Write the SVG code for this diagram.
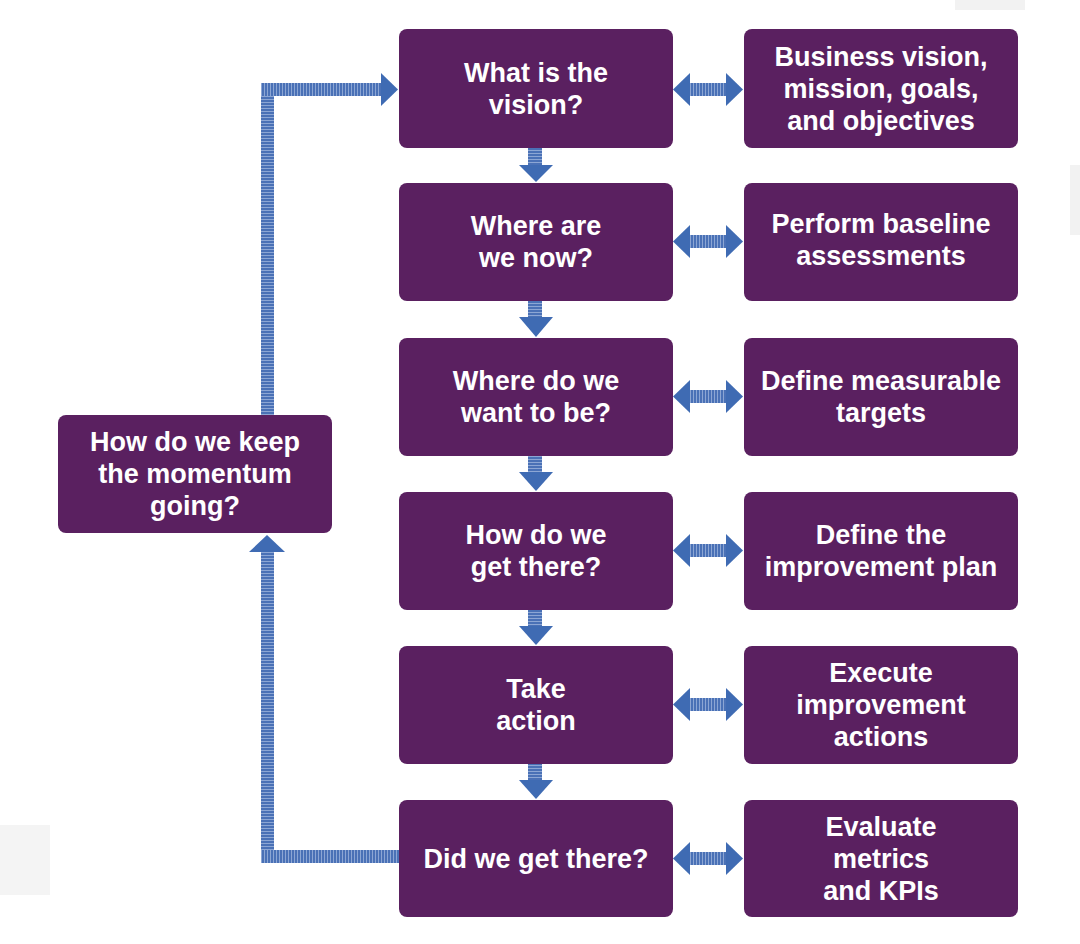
<svg xmlns="http://www.w3.org/2000/svg" width="1080" height="944" viewBox="0 0 1080 944">
  <defs>
    <pattern id="vstripe" patternUnits="userSpaceOnUse" width="3" height="3">
      <rect width="3" height="3" fill="#4a71b6"/>
      <rect width="1" height="3" fill="#8ca6d4"/>
    </pattern>
    <pattern id="hstripe" patternUnits="userSpaceOnUse" width="3" height="3">
      <rect width="3" height="3" fill="#4a71b6"/>
      <rect width="3" height="1" fill="#8ca6d4"/>
    </pattern>
    <style>
      .box { fill: #5a2060; }
      .lbl { fill: #ffffff; font-family: "Liberation Sans", Arial, sans-serif; font-weight: bold; font-size: 27px; text-anchor: middle; }
      .head { fill: #3f6bb3; }
      .hs { fill: url(#vstripe); }
      .vs { fill: url(#hstripe); }
    </style>
  </defs>
  <rect width="1080" height="944" fill="#ffffff"/>
  <rect x="955" y="0" width="70" height="10" fill="#f2f2f2"/>
  <rect x="1070" y="165" width="10" height="70" fill="#f2f2f2"/>
  <rect x="0" y="825" width="50" height="70" fill="#f4f4f4"/>

  <g id="connectors">
    <!-- loop -->
    <rect class="vs" x="261" y="83" width="13" height="332"/>
    <rect class="hs" x="261" y="83" width="121" height="13"/>
    <polygon class="head" points="381,73 398,89.5 381,106"/>
    <rect class="vs" x="261" y="552" width="13" height="311"/>
    <polygon class="head" points="249,552 267,535 285,552"/>
    <rect class="hs" x="261" y="850" width="139" height="13"/>
    <!-- down arrows -->
    <g>
      <rect class="vs" x="528" y="148" width="14" height="17"/>
      <polygon class="head" points="519,165 553,165 536,182"/>
      <rect class="vs" x="528" y="301" width="14" height="16"/>
      <polygon class="head" points="519,317 553,317 536,337"/>
      <rect class="vs" x="528" y="456" width="14" height="16"/>
      <polygon class="head" points="519,472 553,472 536,491"/>
      <rect class="vs" x="528" y="610" width="14" height="16"/>
      <polygon class="head" points="519,626 553,626 536,645"/>
      <rect class="vs" x="528" y="764" width="14" height="16"/>
      <polygon class="head" points="519,780 553,780 536,799"/>
    </g>
    <!-- double arrows -->
    <g>
      <rect class="hs" x="688" y="83" width="40" height="13"/>
      <polygon class="head" points="673,89.5 690,73 690,106"/>
      <polygon class="head" points="743,89.5 726,73 726,106"/>

      <rect class="hs" x="688" y="235" width="40" height="13"/>
      <polygon class="head" points="673,241.5 690,225 690,258"/>
      <polygon class="head" points="743,241.5 726,225 726,258"/>

      <rect class="hs" x="688" y="390" width="40" height="13"/>
      <polygon class="head" points="673,396.5 690,380 690,413"/>
      <polygon class="head" points="743,396.5 726,380 726,413"/>

      <rect class="hs" x="688" y="544" width="40" height="13"/>
      <polygon class="head" points="673,550.5 690,534 690,567"/>
      <polygon class="head" points="743,550.5 726,534 726,567"/>

      <rect class="hs" x="688" y="698" width="40" height="13"/>
      <polygon class="head" points="673,704.5 690,688 690,721"/>
      <polygon class="head" points="743,704.5 726,688 726,721"/>

      <rect class="hs" x="688" y="852" width="40" height="13"/>
      <polygon class="head" points="673,858.5 690,842 690,875"/>
      <polygon class="head" points="743,858.5 726,842 726,875"/>
    </g>
  </g>

  <g id="keep-momentum">
    <rect class="box" x="58" y="415" width="274" height="118" rx="8"/>
    <text class="lbl" x="195" y="451">How do we keep</text>
    <text class="lbl" x="195" y="483">the momentum</text>
    <text class="lbl" x="195" y="515">going?</text>
  </g>

  <g id="vision">
    <rect class="box" x="399" y="29" width="274" height="119" rx="8"/>
    <text class="lbl" x="536" y="82">What is the</text>
    <text class="lbl" x="536" y="114">vision?</text>
  </g>
  <g id="now">
    <rect class="box" x="399" y="183" width="274" height="118" rx="8"/>
    <text class="lbl" x="536" y="235">Where are</text>
    <text class="lbl" x="536" y="267">we now?</text>
  </g>
  <g id="want">
    <rect class="box" x="399" y="338" width="274" height="118" rx="8"/>
    <text class="lbl" x="536" y="390">Where do we</text>
    <text class="lbl" x="536" y="422">want to be?</text>
  </g>
  <g id="get-there">
    <rect class="box" x="399" y="492" width="274" height="118" rx="8"/>
    <text class="lbl" x="536" y="544">How do we</text>
    <text class="lbl" x="536" y="576">get there?</text>
  </g>
  <g id="action">
    <rect class="box" x="399" y="646" width="274" height="118" rx="8"/>
    <text class="lbl" x="536" y="698">Take</text>
    <text class="lbl" x="536" y="730">action</text>
  </g>
  <g id="did-we">
    <rect class="box" x="399" y="800" width="274" height="117" rx="8"/>
    <text class="lbl" x="536" y="868">Did we get there?</text>
  </g>

  <g id="business-vision">
    <rect class="box" x="744" y="29" width="274" height="119" rx="8"/>
    <text class="lbl" x="881" y="66">Business vision,</text>
    <text class="lbl" x="881" y="98">mission, goals,</text>
    <text class="lbl" x="881" y="130">and objectives</text>
  </g>
  <g id="baseline">
    <rect class="box" x="744" y="183" width="274" height="118" rx="8"/>
    <text class="lbl" x="881" y="233">Perform baseline</text>
    <text class="lbl" x="881" y="265">assessments</text>
  </g>
  <g id="targets">
    <rect class="box" x="744" y="338" width="274" height="118" rx="8"/>
    <text class="lbl" x="881" y="390">Define measurable</text>
    <text class="lbl" x="881" y="422">targets</text>
  </g>
  <g id="plan">
    <rect class="box" x="744" y="492" width="274" height="118" rx="8"/>
    <text class="lbl" x="881" y="544">Define the</text>
    <text class="lbl" x="881" y="576">improvement plan</text>
  </g>
  <g id="execute">
    <rect class="box" x="744" y="646" width="274" height="118" rx="8"/>
    <text class="lbl" x="881" y="682">Execute</text>
    <text class="lbl" x="881" y="714">improvement</text>
    <text class="lbl" x="881" y="746">actions</text>
  </g>
  <g id="evaluate">
    <rect class="box" x="744" y="800" width="274" height="117" rx="8"/>
    <text class="lbl" x="881" y="836">Evaluate</text>
    <text class="lbl" x="881" y="868">metrics</text>
    <text class="lbl" x="881" y="900">and KPIs</text>
  </g>
</svg>
